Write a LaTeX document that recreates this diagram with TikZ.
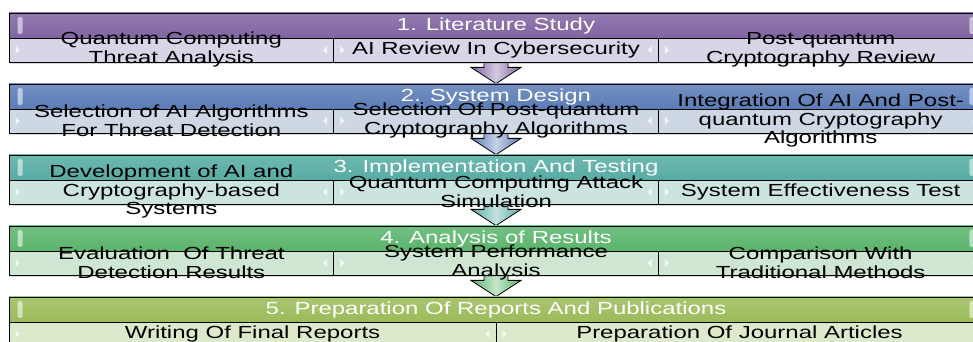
\documentclass[tikz,border=0pt]{standalone}
\usepackage{fontspec}
\setmainfont{Liberation Sans}[FakeStretch=1.37]
\usetikzlibrary{calc,shadows,backgrounds}

% stage colours: header and cell
\definecolor{purphead}{HTML}{8064A2}
\definecolor{purpcell}{HTML}{D9D4E6}
\definecolor{bluehead}{HTML}{5A7CB6}
\definecolor{bluecell}{HTML}{CED8E4}
\definecolor{tealhead}{HTML}{56ACA3}
\definecolor{tealcell}{HTML}{CCE4E0}
\definecolor{grnhead}{HTML}{5AB46B}
\definecolor{grncell}{HTML}{CFE7D2}
\definecolor{limehead}{HTML}{9BBB59}
\definecolor{limecell}{HTML}{DDE9CB}

\tikzset{
  stagefont/.style={font=\fontsize{17.5}{18.8}\selectfont},
  headbox/.style={draw=black, line width=0.8pt, minimum width=974pt,
    minimum height=25pt, inner sep=0pt, text=white, stagefont,
    drop shadow={shadow xshift=0.6pt, shadow yshift=-2pt, opacity=0.3}},
  cellbox/.style={draw=black, line width=0.8pt, minimum height=24pt,
    inner sep=0pt,
    drop shadow={shadow xshift=0.6pt, shadow yshift=-2.5pt, opacity=0.3}},
  celltext/.style={align=center, inner sep=0pt, text=black, stagefont},
  downarrow/.style={draw=black, line width=0.8pt, line join=miter},
  tick/.style={fill=white, opacity=0.75}
}

\begin{document}
\begin{tikzpicture}[x=1pt, y=1pt]
    \useasboundingbox (0,0) rectangle (973,342);
    \clip (0,0) rectangle (973,342);

    % Stage headers
    \foreach \i/\hc/\txt in {1/purphead/{1. Literature Study},
                             2/bluehead/{2. System Design},
                             3/tealhead/{3. Implementation And Testing},
                             4/grnhead/{4. Analysis of Results},
                             5/limehead/{5. Preparation Of Reports And Publications}}
        \node[headbox, top color=\hc!85!white, bottom color=\hc] (h\i)
            at (496, 316.5-71*\i+71) {\txt};

    % Cells under the headers (three per stage, two in the last one)
    \foreach \i/\cc in {1/purpcell,2/bluecell,3/tealcell,4/grncell}
        \foreach \j in {1,2,3}
            \node[cellbox, fill=\cc, minimum width=324.667pt] (c\i\j)
                at (9+324.667*\j-162.333, 292-71*\i+71) {};
    \foreach \j in {1,2}
        \node[cellbox, fill=limecell, minimum width=487pt] (c5\j)
            at (9+487*\j-243.5, 8) {};

    % Header highlights and little cell ticks
    \foreach \i in {1,...,5} {
        \fill[white, opacity=0.55, rounded corners=1.5pt]
            ($(h\i.west)+(9,-8.5)$) rectangle ++(5,17);
        \fill[white, opacity=0.55, rounded corners=1.5pt]
            ($(h\i.east)+(-14,-8.5)$) rectangle ++(5,17);
    }
    \foreach \n in {c11,c12,c13,c21,c22,c23,c31,c32,c33,c41,c42,c43,c51,c52} {
        \fill[tick] ($(\n.west)+(7,4)$) -- ++(4,-4) -- ++(-4,-4) -- cycle;
        \fill[tick] ($(\n.east)+(-7,4)$) -- ++(-4,-4) -- ++(4,-4) -- cycle;
    }

    % Arrows from one stage down to the next
    \begin{scope}[on background layer]
        \foreach \i/\j/\c in {1/2/purphead,2/3/bluehead,3/4/tealhead,4/5/grnhead}
            \draw[downarrow, left color=\c, right color=\c,
                  middle color=\c!35!white]
                ($(c\i2.south)+(-12,10)$) -- ++(0,-15) -- ++(-13,0)
                -- (h\j.north)
                -- ($(c\i2.south)+(25,-5)$) -- ++(-13,0) -- ++(0,15) -- cycle;
    \end{scope}

    % Cell texts
    \foreach \n/\txt in {c11/{Quantum Computing\\Threat Analysis},
                         c12/{AI Review In Cybersecurity},
                         c13/{Post-quantum\\Cryptography Review},
                         c21/{Selection of AI Algorithms\\For Threat Detection},
                         c22/{Selection Of Post-quantum\\Cryptography Algorithms},
                         c23/{Integration Of AI And Post-\\quantum Cryptography\\Algorithms},
                         c31/{Development of AI and\\Cryptography-based\\Systems},
                         c32/{Quantum Computing Attack\\Simulation},
                         c33/{System Effectiveness Test},
                         c41/{Evaluation\ \ Of Threat\\Detection Results},
                         c42/{System Performance\\Analysis},
                         c43/{Comparison With\\Traditional Methods},
                         c51/{Writing Of Final Reports},
                         c52/{Preparation Of Journal Articles}}
        \node[celltext] (\n t) at ($(\n.center)+(0,0.5)$) {\txt};
\end{tikzpicture}
\end{document}
